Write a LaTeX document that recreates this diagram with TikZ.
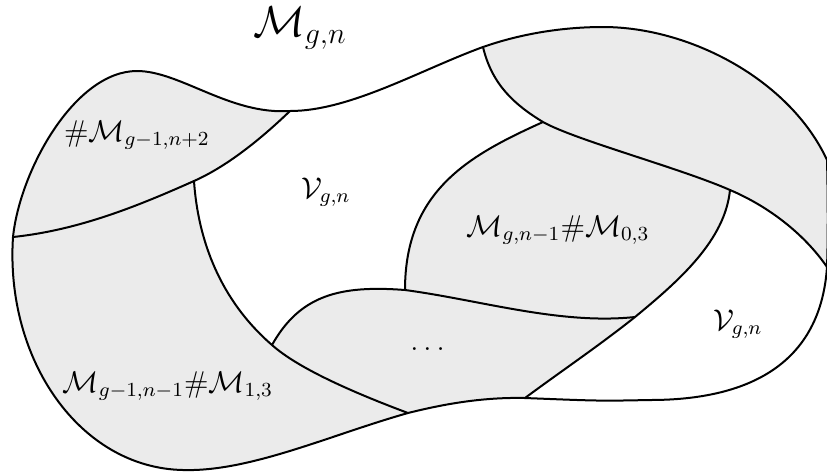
\documentclass[tikz,border=0pt]{standalone}
\usepackage{amsmath,amssymb}
\usepackage{tikz}
\usetikzlibrary{calc}
\definecolor{shade}{HTML}{EBEBEB}
\tikzset{
  seam/.style={draw=black,line width=0.8pt},
  piece/.style={fill=shade},
  hole/.style={fill=white},
  lab/.style={font=\large,inner sep=1pt},
}
% outline of the whole surface
\newcommand{\rimpath}{(l) .. controls (20,170) and (75,71) .. (137,71)
  .. controls (180,71) and (230,115) .. (t1)
  .. controls (350,111) and (420,70) .. (c0)
  .. controls (523,33) and (565,27) .. (603,27)
  .. controls (690,27) and (790,80) .. (827,160)
  .. controls (828,200) and (828,240) .. (c1)
  .. controls (820,370) and (740,400) .. (650,400)
  .. controls (600,401) .. (fo)
  .. controls (480,397) and (440,405) .. (bo)
  .. controls (330,435) and (250,472) .. (183,470)
  .. controls (80,468) and (5,360) .. (l) -- cycle}

\begin{document}
\begin{tikzpicture}[x=0.4pt,y=-0.4pt]
\useasboundingbox (0,0) rectangle (827,475);
% junctions of the seams
\coordinate (l) at (13,237); \coordinate (t1) at (290,111); \coordinate (ab) at (194,181);
\coordinate (bg) at (272,345); \coordinate (bo) at (408,413); \coordinate (c0) at (483,47);
\coordinate (cd) at (543,122); \coordinate (cf) at (730,190); \coordinate (c1) at (827,267);
\coordinate (de) at (405,290); \coordinate (ef) at (635,317); \coordinate (fo) at (525,398);
% pieces
\fill[piece] \rimpath;
\fill[hole] (t1) .. controls (350,111) and (420,70) .. (c0) .. controls (492,85) and (515,105) .. (cd)
  .. controls (470,155) and (405,190) .. (de) .. controls (340,285) and (300,295) .. (bg)
  .. controls (220,300) and (198,240) .. (ab) .. controls (230,165) and (265,135) .. (t1) -- cycle;
\fill[hole] (cf) .. controls (725,240) and (680,280) .. (ef) .. controls (600,345) and (560,372) .. (fo)
  .. controls (600,401) .. (650,400) .. controls (740,400) and (820,370) .. (c1)
  .. controls (805,235) and (770,207) .. (cf) -- cycle;
% seams
\draw[seam] \rimpath;
\draw[seam] (l) .. controls (80,230) and (140,205) .. (ab) .. controls (230,165) and (265,135) .. (t1);
\draw[seam] (ab) .. controls (198,240) and (220,300) .. (bg) .. controls (300,370) and (360,395) .. (bo);
\draw[seam] (bg) .. controls (300,295) and (340,285) .. (de) .. controls (480,300) and (560,325) .. (ef);
\draw[seam] (cd) .. controls (470,155) and (405,190) .. (de);
\draw[seam] (c0) .. controls (492,85) and (515,105) .. (cd) .. controls (575,140) and (680,168) .. (cf)
  .. controls (770,207) and (805,235) .. (c1);
\draw[seam] (cf) .. controls (725,240) and (680,280) .. (ef) .. controls (600,345) and (560,372) .. (fo);
% labels
\node[lab,font=\LARGE,inner sep=0pt] (top) at (300,28) {$\mathcal{M}_{g,n}$};
\node[lab] (up) at (137,135) {$\#\mathcal{M}_{g-1,n+2}$};
\node[lab] (mid) at (326,192) {$\mathcal{V}_{g,n}$};
\node[lab] (glue) at (558,230) {$\mathcal{M}_{g,n-1}\#\mathcal{M}_{0,3}$};
\node[lab] (dots) at (430,349) {$\dots$};
\node[lab] (side) at (738,324) {$\mathcal{V}_{g,n}$};
\node[lab] (low) at (168,386) {$\mathcal{M}_{g-1,n-1}\#\mathcal{M}_{1,3}$};
\end{tikzpicture}
\end{document}
